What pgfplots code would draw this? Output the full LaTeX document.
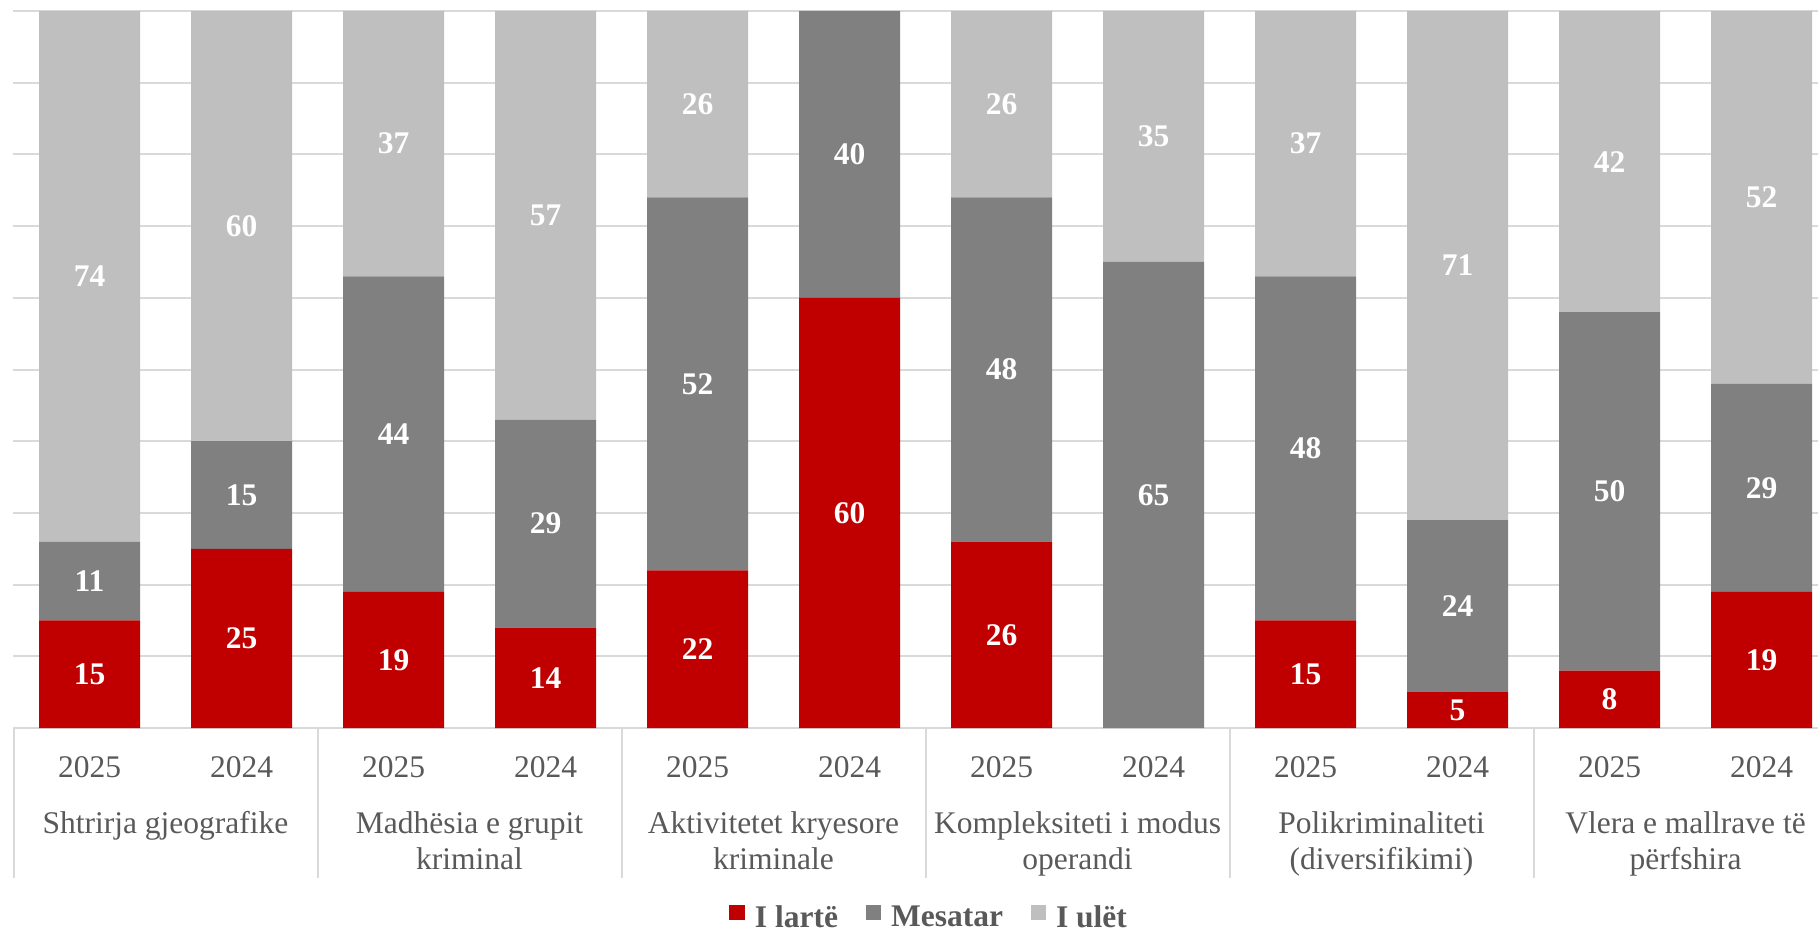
\documentclass[border=0pt]{standalone}
\usepackage{pgfplots}
\usepackage{pgfplotstable}
\pgfplotsset{compat=1.18}
\usepackage{fontspec}
\setmainfont{Liberation Serif}
\definecolor{cRed}{HTML}{C00000}
\definecolor{cMid}{HTML}{808080}
\definecolor{cLight}{HTML}{BFBFBF}
\definecolor{cText}{HTML}{595959}
\definecolor{cGrid}{HTML}{D9D9D9}

\pgfplotstableread{
x y
0 15
1 25
2 19
3 14
4 22
5 60
6 26
7 0
8 15
9 5
10 8
11 19
}\tabHigh
\pgfplotstableread{
x y
0 11
1 15
2 44
3 29
4 52
5 40
6 48
7 65
8 48
9 24
10 50
11 29
}\tabMid
\pgfplotstableread{
x y
0 74
1 60
2 37
3 57
4 26
5 0
6 26
7 35
8 37
9 71
10 42
11 52
}\tabLow

\begin{document}
\begin{tikzpicture}
\useasboundingbox (-5.2pt,-81.2pt) rectangle (722pt,291.2pt);
\begin{axis}[
  at={(0pt,0pt)}, anchor=south west,
  scale only axis, width=722pt, height=286.8pt,
  ybar stacked, bar width=0.6645,
  xmin=-0.5033, xmax=11.3717, ymin=0, ymax=100,
  clip=false,
  axis line style={draw=none},
  major tick length=0pt,
  ytick={0,10,...,100}, yticklabels={},
  ymajorgrids, major grid style={cGrid, line width=0.8pt},
  xtick={0,...,11},
  xticklabels={2025,2024,2025,2024,2025,2024,2025,2024,2025,2024,2025,2024},
  xticklabel style={anchor=base, yshift=-19.6pt, text=cText, font=\fontsize{12.6}{15}\selectfont},
  point meta=explicit,
  nodes near coords={\pgfmathfloatifflags{\pgfplotspointmeta}{0}{}{\pgfmathprintnumber[assume math mode=true]{\pgfplotspointmeta}}},
  every node near coord/.append style={anchor=center, text=white,
    font=\fontsize{12.6}{15}\selectfont\bfseries},
  area legend,
  legend columns=3,
  legend image code/.code={\fill[#1] (0pt,-0.6pt) rectangle (6.2pt,5.6pt);},
  legend style={at={(0.508,-0.2657)}, anchor=center, draw=none, fill=none,
    font=\fontsize{12.6}{15}\selectfont\bfseries, text=cText,
    nodes={inner xsep=1.4pt},
    /tikz/every odd column/.append style={column sep=2.6pt},
    /tikz/every even column/.append style={column sep=9.6pt}},
]
\addplot[fill=cRed, draw=none] table[x=x,y=y,meta=y]{\tabHigh};
\addplot[fill=cMid, draw=none] table[x=x,y=y,meta=y]{\tabMid};
\addplot[fill=cLight, draw=none] table[x=x,y=y,meta=y]{\tabLow};
\legend{I lartë, Mesatar, I ulët}

\draw[cGrid, line width=0.8pt] (axis cs:-0.5033,0) -- (axis cs:11.3717,0);
\draw[cGrid, line width=0.8pt] (axis cs:-0.5,0) -- ++(0pt,-60pt);
\draw[cGrid, line width=0.8pt] (axis cs:1.5,0) -- ++(0pt,-60pt);
\draw[cGrid, line width=0.8pt] (axis cs:3.5,0) -- ++(0pt,-60pt);
\draw[cGrid, line width=0.8pt] (axis cs:5.5,0) -- ++(0pt,-60pt);
\draw[cGrid, line width=0.8pt] (axis cs:7.5,0) -- ++(0pt,-60pt);
\draw[cGrid, line width=0.8pt] (axis cs:9.5,0) -- ++(0pt,-60pt);

\node[anchor=base, text=cText, font=\fontsize{12.6}{15}\selectfont, inner sep=0pt] at ([yshift=-42pt]axis cs:0.5,0) {Shtrirja gjeografike};
\node[anchor=base, text=cText, font=\fontsize{12.6}{15}\selectfont, inner sep=0pt] at ([yshift=-42pt]axis cs:2.5,0) {Madhësia e grupit};
\node[anchor=base, text=cText, font=\fontsize{12.6}{15}\selectfont, inner sep=0pt] at ([yshift=-56.4pt]axis cs:2.5,0) {kriminal};
\node[anchor=base, text=cText, font=\fontsize{12.6}{15}\selectfont, inner sep=0pt] at ([yshift=-42pt]axis cs:4.5,0) {Aktivitetet kryesore};
\node[anchor=base, text=cText, font=\fontsize{12.6}{15}\selectfont, inner sep=0pt] at ([yshift=-56.4pt]axis cs:4.5,0) {kriminale};
\node[anchor=base, text=cText, font=\fontsize{12.6}{15}\selectfont, inner sep=0pt] at ([yshift=-42pt]axis cs:6.5,0) {Kompleksiteti i modus};
\node[anchor=base, text=cText, font=\fontsize{12.6}{15}\selectfont, inner sep=0pt] at ([yshift=-56.4pt]axis cs:6.5,0) {operandi};
\node[anchor=base, text=cText, font=\fontsize{12.6}{15}\selectfont, inner sep=0pt] at ([yshift=-42pt]axis cs:8.5,0) {Polikriminaliteti};
\node[anchor=base, text=cText, font=\fontsize{12.6}{15}\selectfont, inner sep=0pt] at ([yshift=-56.4pt]axis cs:8.5,0) {(diversifikimi)};
\node[anchor=base, text=cText, font=\fontsize{12.6}{15}\selectfont, inner sep=0pt] at ([yshift=-42pt]axis cs:10.5,0) {Vlera e mallrave të};
\node[anchor=base, text=cText, font=\fontsize{12.6}{15}\selectfont, inner sep=0pt] at ([yshift=-56.4pt]axis cs:10.5,0) {përfshira};
\end{axis}
\end{tikzpicture}
\end{document}
